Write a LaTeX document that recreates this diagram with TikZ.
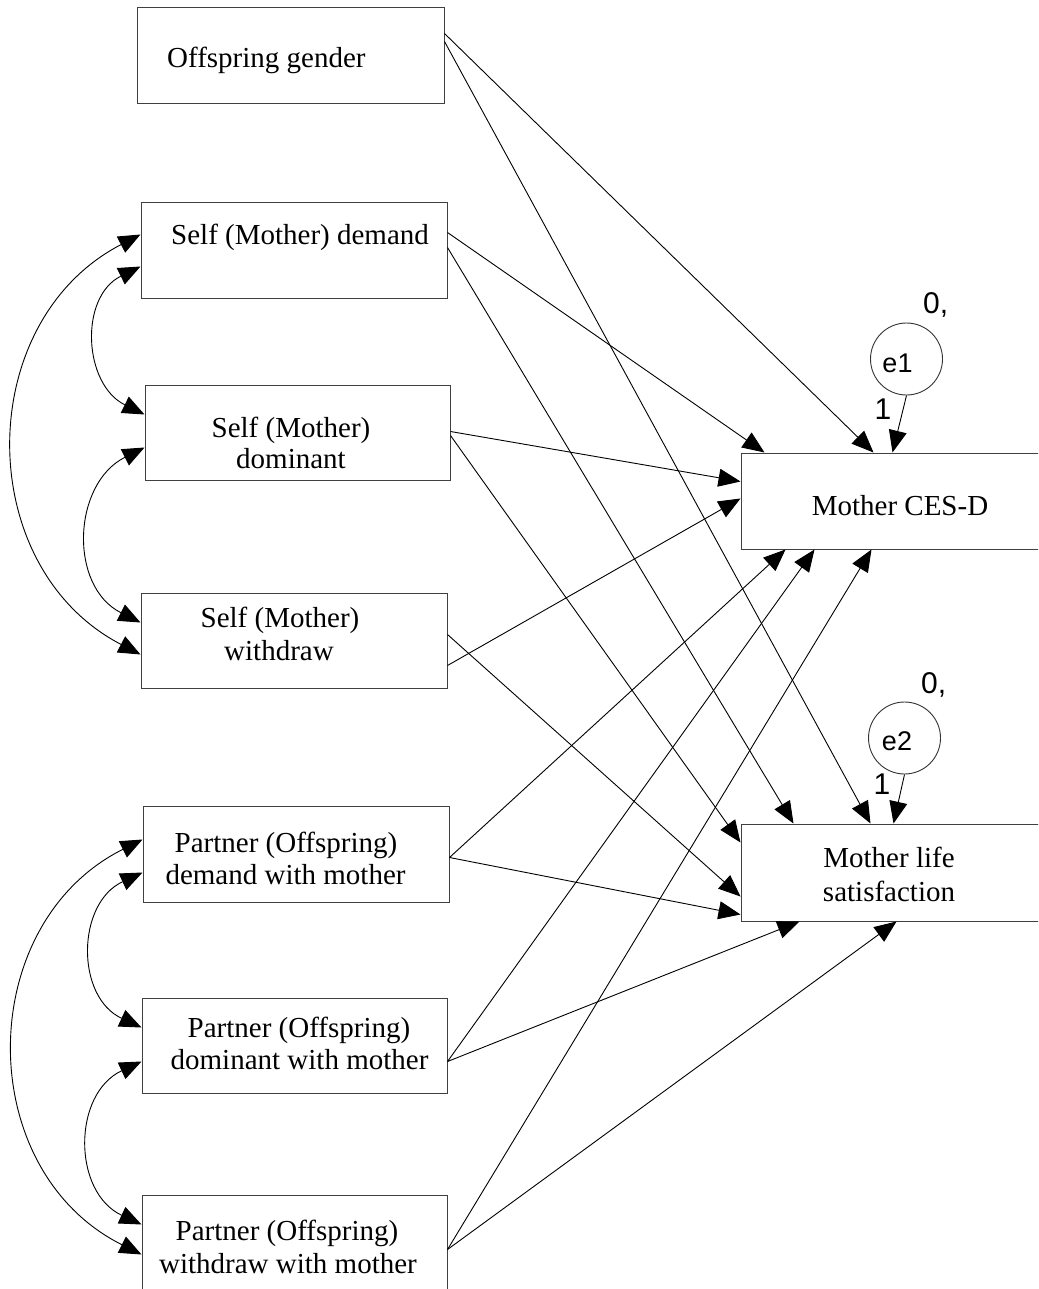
\documentclass[tikz,border=0pt]{standalone}
\usepackage{fontspec}
\setmainfont{Liberation Serif}
\newfontfamily\sansf{Liberation Sans}
\usetikzlibrary{arrows.meta,calc}
\begin{document}
\begin{tikzpicture}[x=1pt,y=-1pt,
  box/.style={draw=black!75,line width=1pt,inner sep=0pt,minimum width=306pt,minimum height=95pt},
  txt/.style={anchor=base,inner sep=0pt,font=\fontsize{29}{32}\selectfont},
  err/.style={draw=black!80,line width=0.9pt,circle,minimum size=72pt,inner sep=0pt},
  etxt/.style={anchor=base,inner sep=0pt,font=\sansf\fontsize{27}{30}\selectfont},
  num/.style={anchor=base,inner sep=0pt,font=\sansf\fontsize{30}{32}\selectfont},
  conn/.style={line width=0.9pt,-{Triangle[length=22pt,width=18pt]}},
  cov/.style={line width=0.9pt,{Triangle[length=22pt,width=18pt]}-{Triangle[length=22pt,width=18pt]}}
]
\useasboundingbox (0,0) rectangle (1038,1289);
\clip (0,0) rectangle (1038,1289);

% boxes
\node[box,minimum width=307pt,minimum height=96pt] (og) at (290.5,56) {};
\node[box] (sdem) at (294,250.5) {};
\node[box,minimum width=305pt] (sdom) at (297.5,432.5) {};
\node[box] (swd) at (294,640.5) {};
\node[box,minimum height=96pt] (pdem) at (296,854) {};
\node[box,minimum width=305pt] (pdom) at (294.5,1045.5) {};
\node[box,minimum width=305pt] (pwd) at (294.5,1242.5) {};
\node[box,minimum width=320pt,minimum height=96pt] (ces) at (901,501) {};
\node[box,minimum width=320pt,minimum height=97pt] (ls) at (901,872.5) {};

% error terms
\node[err] (e1) at (906.5,359) {};
\node[err] (e2) at (904.5,738) {};

% texts
\node[txt,anchor=base west] (ogt) at (167,68) {Offspring gender};
\node[txt,anchor=base west] (sdemt) at (171,244) {Self (Mother) demand};
\node[txt] (sdomt1) at (291,437) {Self (Mother)};
\node[txt] (sdomt2) at (291,468) {dominant};
\node[txt] (swdt1) at (280,627) {Self (Mother)};
\node[txt] (swdt2) at (279,660) {withdraw};
\node[txt] (pdemt1) at (286,852) {Partner (Offspring)};
\node[txt] (pdemt2) at (285.5,884) {demand with mother};
\node[txt] (pdomt1) at (299,1037) {Partner (Offspring)};
\node[txt] (pdomt2) at (299.5,1069) {dominant with mother};
\node[txt] (pwdt1) at (287,1240) {Partner (Offspring)};
\node[txt] (pwdt2) at (288,1273) {withdraw with mother};
\node[txt] (cest) at (900,515) {Mother CES-D};
\node[txt] (lst1) at (889,867) {Mother life};
\node[txt] (lst2) at (889,901) {satisfaction};

\node[etxt] (e1t) at (897.5,372) {e1};
\node[etxt] (e2t) at (897,750) {e2};
\node[num,anchor=base west] (e1v) at (923,313) {0,};
\node[num,anchor=base west] (e2v) at (921,693) {0,};
\node[num] (e1w) at (883,419) {1};
\node[num] (e2w) at (882,794) {1};

% regression paths
\draw[conn] ($(og.north east)+(0,26)$) -- ($(ces.north west)+(133,0)$);
\draw[conn] ($(og.north east)+(0,34)$) -- ($(ls.north west)+(130,0)$);
\draw[conn] ($(sdem.north east)+(0,30)$) -- ($(ces.north west)+(24,0)$);
\draw[conn] ($(sdem.north east)+(0,45)$) -- ($(ls.north west)+(53,0)$);
\draw[conn] ($(sdom.north east)+(0,47)$) -- ($(ces.north west)+(0,29)$);
\draw[conn] ($(sdom.north east)+(0,51)$) -- ($(ls.north west)+(0,19)$);
\draw[conn] ($(swd.north east)+(0,42)$) -- ($(ls.north west)+(0,73)$);
\draw[conn] ($(swd.north east)+(0,73)$) -- ($(ces.north west)+(0,46)$);
\draw[conn] ($(pdem.north east)+(0,52)$) -- ($(ces.south west)+(45,0)$);
\draw[conn] ($(pdem.north east)+(0,52)$) -- ($(ls.north west)+(0,91)$);
\draw[conn] ($(pdom.north east)+(0,64)$) -- ($(ces.south west)+(74,0)$);
\draw[conn] ($(pdom.north east)+(0,64)$) -- ($(ls.south west)+(59,0)$);
\draw[conn] ($(pwd.north east)+(0,55)$) -- ($(ces.south west)+(131,0)$);
\draw[conn] ($(pwd.north east)+(0,55)$) -- ($(ls.south west)+(156,0)$);
\draw[conn] (e1.south) -- ($(ces.north west)+(152,0)$);
\draw[conn] (e2.south) -- ($(ls.north west)+(153,0)$);

% covariances
\draw[cov] ($(sdem.north west)+(0,32)$) .. controls +(-168,87.1) and +(-168,-87.1) .. ($(swd.north west)+(0,62)$);
\draw[cov] ($(sdem.north west)+(0,64)$) .. controls +(-61.4,30.2) and +(-61.4,-30.2) .. ($(sdom.north west)+(0,30)$);
\draw[cov] ($(sdom.north west)+(0,63)$) .. controls +(-72.1,36.1) and +(-72.1,-36.1) .. ($(swd.north west)+(0,30)$);
\draw[cov] ($(pdem.north west)+(0,34)$) .. controls +(-169,84.5) and +(-169,-84.5) .. ($(pwd.north west)+(0,60)$);
\draw[cov] ($(pdem.north west)+(0,67)$) .. controls +(-66.1,30.6) and +(-66.1,-30.6) .. ($(pdom.north west)+(0,30)$);
\draw[cov] ($(pdom.north west)+(0,64)$) .. controls +(-69.2,32.3) and +(-69.2,-32.3) .. ($(pwd.north west)+(0,30)$);
\end{tikzpicture}
\end{document}
